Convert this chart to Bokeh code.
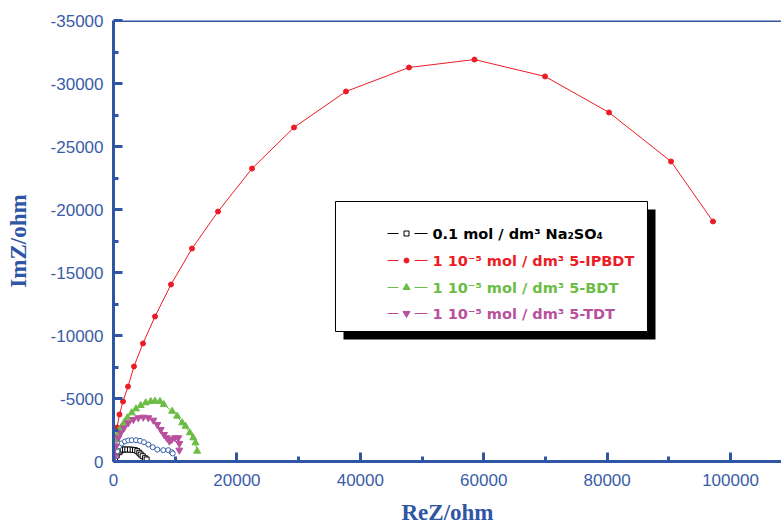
from bokeh.plotting import figure
from bokeh.models import Range1d, FixedTicker, BasicTickFormatter, Span
from bokeh.core.properties import value
from bokeh.embed import file_html
from bokeh.resources import INLINE

# ---------------- data (ReZ, ImZ in ohm) ----------------
na2so4_re = [250, 520, 940, 1160, 1490, 1860, 2240, 2670, 3110, 3480, 3860, 4180, 4410, 4730, 5100, 5370]
na2so4_im = [-160, -480, -740, -870, -950, -950, -950, -950, -925, -900, -820, -690, -555, -420, -260, -160]

blue_re = [400, 620, 940, 1330, 1860, 2400, 2950, 3650, 4300, 4940, 5640, 6350, 7100, 8070, 8880, 9430, 9600]
blue_im = [-420, -820, -1215, -1430, -1590, -1670, -1690, -1690, -1640, -1530, -1350, -1135, -950, -900, -900, -740, -635]

ipbdt_re = [80, 130, 290, 570, 970, 1540, 2350, 3320, 4780, 6730, 9320, 12720, 16940, 22450, 29250,
            37680, 47890, 58500, 69940, 80310, 90360, 97160]
ipbdt_im = [-560, -1110, -1830, -2700, -3730, -4760, -5950, -7540, -9370, -11510, -14050, -16900, -19840,
            -23250, -26510, -29370, -31270, -31900, -30560, -27700, -23810, -19050]

bdt_re = [240, 520, 790, 1170, 1700, 2240, 2950, 3650, 4410, 5220, 6030, 6730, 7540, 8150, 9510, 10320,
          11130, 11670, 12370, 12920, 13290, 13560]
bdt_im = [-1090, -1750, -2280, -2670, -3070, -3470, -3865, -4180, -4445, -4660, -4760, -4785, -4760, -4520,
          -3990, -3600, -3070, -2800, -2280, -1880, -1480, -820]

tdt_re = [240, 400, 790, 1170, 1700, 2400, 3220, 4020, 4830, 5640, 6460, 7100, 7650, 8190, 8620, 9060,
          9430, 9970, 10500, 10670, 10670]
tdt_im = [-420, -1215, -1880, -2280, -2670, -3070, -3330, -3470, -3515, -3470, -3280, -2940, -2540, -2140,
          -1880, -1610, -1750, -1880, -1880, -1430, -900]

x_ticks = [0, 20000, 40000, 60000, 80000, 100000]
x_minor = [10000, 30000, 50000, 70000, 90000, 110000]
y_ticks = [0, -5000, -10000, -15000, -20000, -25000, -30000, -35000]
y_minor = [-2500, -7500, -12500, -17500, -22500, -27500, -32500]
y_tick_labels = ["0", "-5000", "-10000", "-15000", "-20000", "-25000", "-30000", "-35000"]

legend_labels = ["0.1 mol / dm³ Na₂SO₄", "1 10⁻⁵ mol / dm³ 5-IPBDT",
                 "1 10⁻⁵ mol / dm³ 5-BDT", "1 10⁻⁵ mol / dm³ 5-TDT"]

# ---------------- styles ----------------
BLUE = "#2f55a5"
BLUE_TXT = "#3a5ca8"
C_BLACK = "#000000"
C_RED = "#ec1c24"
C_GREEN = "#6cbd45"
C_MAG = "#b8519d"
C_BLUE = "#3560ad"

W, H = 781, 527
B_LEFT, B_TOP, B_BOTTOM = 113, 20, 66
X_END = 108260
Y_END = -35000
FRAME_W = W - B_LEFT
FRAME_H = H - B_TOP - B_BOTTOM

p = figure(width=W, height=H, output_backend="svg", toolbar_location=None,
           x_range=Range1d(0, X_END), y_range=Range1d(0, Y_END),
           min_border_left=B_LEFT, min_border_right=0, min_border_top=B_TOP, min_border_bottom=B_BOTTOM,
           background_fill_color="white", border_fill_color="white")
p.grid.visible = False
p.outline_line_color = None

p.xaxis.ticker = FixedTicker(ticks=x_ticks, minor_ticks=x_minor)
p.yaxis.ticker = FixedTicker(ticks=y_ticks, minor_ticks=y_minor)
p.yaxis.major_label_overrides = {t: s for t, s in zip(y_ticks, y_tick_labels)}
p.xaxis.axis_label = "ReZ/ohm"
p.yaxis.axis_label = "ImZ/ohm"
for ax in (p.xaxis[0], p.yaxis[0]):
    ax.formatter = BasicTickFormatter(use_scientific=False)
    ax.axis_line_color = BLUE
    ax.axis_line_width = 3
    ax.major_tick_line_color = BLUE
    ax.major_tick_line_width = 3
    ax.minor_tick_line_color = BLUE
    ax.minor_tick_line_width = 3
    ax.major_tick_in = 9
    ax.major_tick_out = 0
    ax.minor_tick_in = 5
    ax.minor_tick_out = 0
    ax.major_label_text_font = "Liberation Sans"
    ax.major_label_text_font_size = "17px"
    ax.major_label_text_color = BLUE_TXT
    ax.axis_label_text_font = "Liberation Serif"
    ax.axis_label_text_font_style = "bold"
    ax.axis_label_text_font_size = "23px"
    ax.axis_label_text_color = BLUE
p.xaxis.major_label_standoff = 12
p.xaxis.axis_label_standoff = 11
p.yaxis.major_label_standoff = 10
p.yaxis.axis_label_standoff = 17

p.add_layout(Span(location=Y_END, dimension="width", line_color=BLUE, line_width=3))

# ---------------- series ----------------
p.line(na2so4_re, na2so4_im, line_color=C_BLACK, line_width=1)
p.scatter(na2so4_re, na2so4_im, marker="square", size=5, line_color=C_BLACK, fill_color="white", line_width=1)

p.line(blue_re, blue_im, line_color=C_BLUE, line_width=1)
p.scatter(blue_re, blue_im, marker="circle", size=5, line_color=C_BLUE, fill_color="white", line_width=1)

p.line(ipbdt_re, ipbdt_im, line_color=C_RED, line_width=1)
p.scatter(ipbdt_re, ipbdt_im, marker="circle", size=5, line_color=C_RED, fill_color=C_RED)

p.line(bdt_re, bdt_im, line_color=C_GREEN, line_width=1)
p.scatter(bdt_re, bdt_im, marker="triangle", size=7, line_color=C_GREEN, fill_color=C_GREEN)

p.line(tdt_re, tdt_im, line_color=C_MAG, line_width=1)
p.scatter(tdt_re, tdt_im, marker="inverted_triangle", size=7, line_color=C_MAG, fill_color=C_MAG)

# ---------------- legend box (pixel layout converted to data units) ----------------
XS = FRAME_W / X_END          # px per ohm
YS = FRAME_H / abs(Y_END)     # px per ohm
LEG_L = 222                   # px from frame left
LEG_T = 260                   # px above frame bottom


def lx(px):
    return (LEG_L + px) / XS


def ly(py):
    return -(LEG_T - py) / YS


BOX_W, BOX_H, SH = 312, 130, 8
p.quad(left=[lx(SH)], right=[lx(BOX_W + SH)], top=[ly(SH)], bottom=[ly(BOX_H + SH)],
       fill_color="black", line_color=None)
p.quad(left=[lx(0)], right=[lx(BOX_W)], top=[ly(0)], bottom=[ly(BOX_H)],
       fill_color="white", line_color="black", line_width=1)

row_py = [32, 59, 86, 112]
colors = [C_BLACK, C_RED, C_GREEN, C_MAG]
markers = ["square", "circle", "triangle", "inverted_triangle"]
fills = ["white", C_RED, C_GREEN, C_MAG]
sizes = [5, 5, 7, 7]
for py, c, m, f, s in zip(row_py, colors, markers, fills, sizes):
    p.segment(x0=[lx(52), lx(79)], y0=[ly(py), ly(py)], x1=[lx(63), lx(92)], y1=[ly(py), ly(py)],
              line_color=c, line_width=1)
    p.scatter([lx(71)], [ly(py)], marker=m, size=s, line_color=c, fill_color=f, line_width=1)

p.text(x=[lx(97)] * 4, y=[ly(py) for py in row_py], text=legend_labels, text_color=colors,
       text_font=value("DejaVu Sans"), text_font_style="bold", text_font_size="14.5px",
       text_baseline="middle", text_align="left")

open("out.html", "w").write(file_html(p, INLINE))
